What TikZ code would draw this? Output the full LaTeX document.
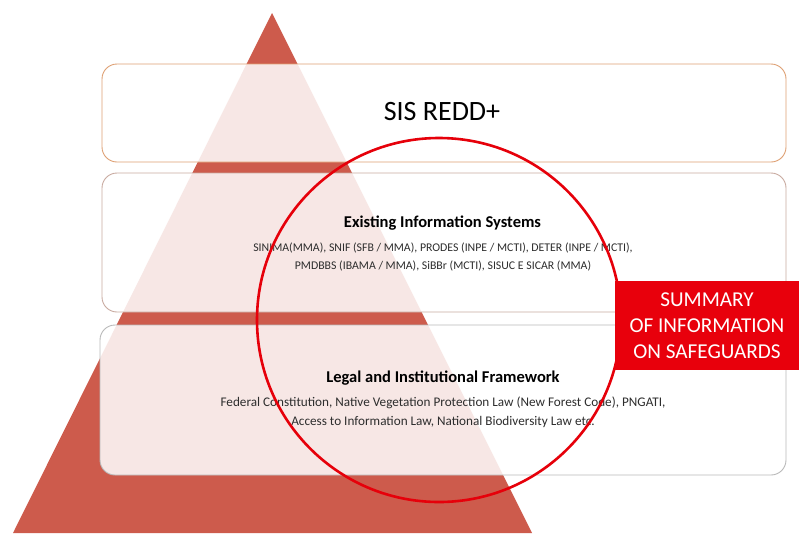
\documentclass[tikz,border=0pt]{standalone}
\usepackage{fontspec}
\setmainfont{Carlito}
\definecolor{tri}{RGB}{205,91,76}
\definecolor{ringred}{RGB}{230,0,10}
\definecolor{boxred}{RGB}{232,0,12}
\definecolor{borderA}{RGB}{222,160,115}
\definecolor{borderB}{RGB}{200,170,160}
\definecolor{borderC}{RGB}{185,185,185}
\definecolor{smalltext}{RGB}{45,45,45}
\tikzset{
  layer/.style={draw=#1, line width=0.9pt, rounded corners=15pt, fill=white, fill opacity=0.86, inner sep=0pt},
  headtext/.style={font=\bfseries\fontsize{16.5}{19}\selectfont, text=black, inner sep=0pt},
  bodytext/.style={font=\fontsize{11.8}{18.5}\selectfont, text=smalltext, align=center, inner sep=0pt},
}
\begin{document}
\begin{tikzpicture}[x=1pt,y=-1pt]
\useasboundingbox (0,0) rectangle (799,533);
% pyramid
\coordinate (apex) at (272,13);
\coordinate (bl) at (13,533);
\coordinate (br) at (532,533);
\fill[tri] (apex) -- (br) -- (bl) -- cycle;
% layers
\node[layer=borderA, minimum width=684pt, minimum height=98pt] (top) at (444,113) {};
\node[layer=borderB, minimum width=684pt, minimum height=139pt] (mid) at (444,242.5) {};
\node[layer=borderC, minimum width=686pt, minimum height=150pt] (bot) at (443,400) {};
% texts
\node[font=\fontsize{28}{30}\selectfont, inner sep=0pt] (sis) at (442,112) {SIS REDD+};
\node[headtext] (exist) at (442.5,223) {Existing Information Systems};
\node[bodytext] (existtxt) at (443,257) {SINIMA(MMA), SNIF (SFB / MMA), PRODES (INPE / MCTI), DETER (INPE / MCTI),\\PMDBBS (IBAMA / MMA), SiBBr (MCTI), SISUC E SICAR (MMA)};
\node[headtext] (legal) at (443,378) {Legal and Institutional Framework};
\node[bodytext, font=\fontsize{13.2}{19}\selectfont] (legaltxt) at (443,412.5) {Federal Constitution, Native Vegetation Protection Law (New Forest Code), PNGATI,\\Access to Information Law, National Biodiversity Law etc.};
% circle
\node[circle, draw=ringred, line width=2.6pt, minimum size=364pt, inner sep=0pt] (ring) at (439,320) {};
% summary box
\node[fill=boxred, minimum width=184pt, minimum height=89pt, inner sep=0pt, text=white, align=center, font=\fontsize{21.2}{26}\selectfont] (summary) at (707,325.5) {SUMMARY\\OF INFORMATION\\ON SAFEGUARDS};
\end{tikzpicture}
\end{document}
